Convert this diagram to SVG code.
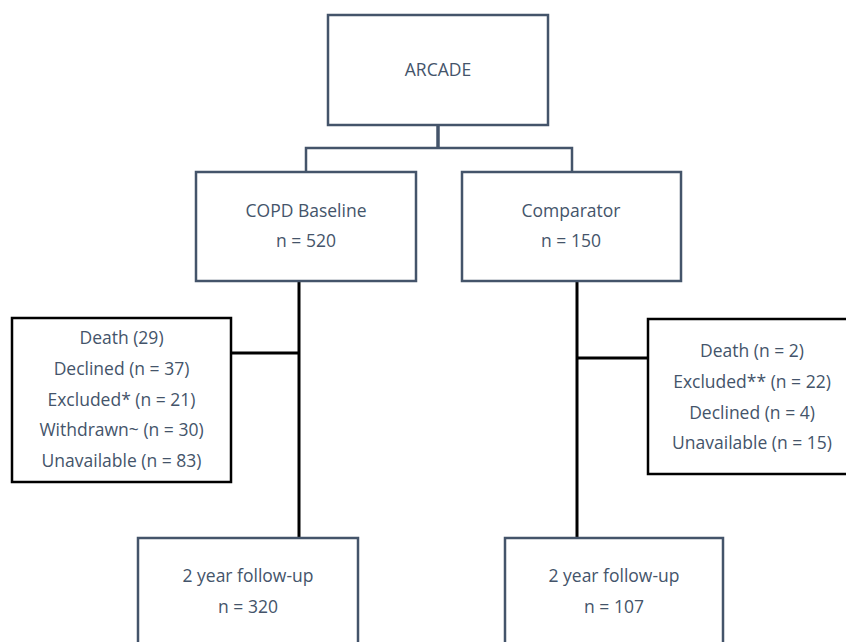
<svg xmlns="http://www.w3.org/2000/svg" width="846" height="642" viewBox="0 0 846 642">
<style>
.box{fill:#ffffff;stroke:#44546a;stroke-width:2.5}
.bbox{fill:#ffffff;stroke:#000000;stroke-width:2.5}
.t{font-family:"Open Sans","Liberation Sans",sans-serif;font-size:17.5px;fill:#44546a;text-anchor:middle}
.c1{stroke:#44546a;stroke-width:2.5;fill:none}
.c2{stroke:#000000;stroke-width:3;fill:none}
</style>
<rect width="846" height="642" fill="#ffffff"/>
<g id="connectors">
<line class="c1" x1="438" y1="126" x2="438" y2="148" style="stroke-width:3.5"/>
<polyline class="c1" points="306,172 306,148 572,148 572,172"/>
<line class="c2" x1="299" y1="281" x2="299" y2="538"/>
<line class="c2" x1="231" y1="353" x2="299" y2="353"/>
<line class="c2" x1="577" y1="281" x2="577" y2="538"/>
<line class="c2" x1="577" y1="358" x2="648" y2="358"/>
</g>
<g id="arcade">
<rect class="box" x="328" y="15" width="220" height="110"/>
<text class="t" x="438" y="76">ARCADE</text>
</g>
<g id="copd">
<rect class="box" x="196" y="172" width="220" height="109"/>
<text class="t" x="306" y="217">COPD Baseline</text>
<text class="t" x="306" y="247">n = 520</text>
</g>
<g id="comparator">
<rect class="box" x="462" y="172" width="219" height="109"/>
<text class="t" x="571" y="217">Comparator</text>
<text class="t" x="571" y="247">n = 150</text>
</g>
<g id="copd-losses">
<rect class="bbox" x="12" y="318" width="219" height="164"/>
<text class="t" x="121.5" y="344">Death (29)</text>
<text class="t" x="121.5" y="375">Declined (n = 37)</text>
<text class="t" x="121.5" y="405.5">Excluded* (n = 21)</text>
<text class="t" x="121.5" y="436">Withdrawn~ (n = 30)</text>
<text class="t" x="121.5" y="467">Unavailable (n = 83)</text>
</g>
<g id="comparator-losses">
<rect class="bbox" x="648" y="319" width="210" height="155"/>
<text class="t" x="752" y="357">Death (n = 2)</text>
<text class="t" x="752" y="387.5">Excluded** (n = 22)</text>
<text class="t" x="752" y="418.5">Declined (n = 4)</text>
<text class="t" x="752" y="449">Unavailable (n = 15)</text>
</g>
<g id="copd-followup">
<rect class="box" x="138" y="538" width="220" height="125"/>
<text class="t" x="248" y="582">2 year follow-up</text>
<text class="t" x="248" y="613">n = 320</text>
</g>
<g id="comparator-followup">
<rect class="box" x="505" y="538" width="218" height="125"/>
<text class="t" x="614" y="582">2 year follow-up</text>
<text class="t" x="614" y="613">n = 107</text>
</g>
</svg>
